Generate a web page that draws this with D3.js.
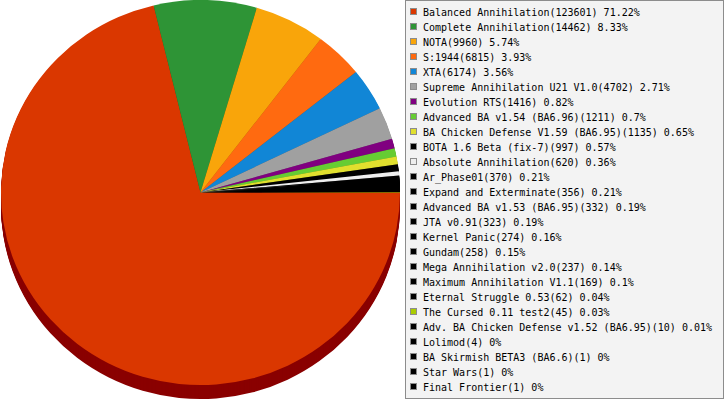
<!DOCTYPE html>
<html>
<head>
<meta charset="utf-8">
<script src="https://cdn.jsdelivr.net/npm/d3@7"></script>
<style>
  body { margin: 0; background: #fff; }
  svg { display: block; }
  .legend text { font-family: "DejaVu Sans Mono", monospace; font-size: 10px; fill: #000; }
</style>
</head>
<body>
<div id="chart"></div>
<script>
// Mod names and game counts, in drawing order
const mods = [
  "Balanced Annihilation", "Complete Annihilation", "NOTA", "S:1944", "XTA",
  "Supreme Annihilation U21 V1.0", "Evolution RTS", "Advanced BA v1.54 (BA6.96)",
  "BA Chicken Defense V1.59 (BA6.95)", "BOTA 1.6 Beta (fix-7)", "Absolute Annihilation",
  "Ar_Phase01", "Expand and Exterminate", "Advanced BA v1.53 (BA6.95)", "JTA v0.91",
  "Kernel Panic", "Gundam", "Mega Annihilation v2.0", "Maximum Annihilation V1.1",
  "Eternal Struggle 0.53", "The Cursed 0.11 test2", "Adv. BA Chicken Defense v1.52 (BA6.95)",
  "Lolimod", "BA Skirmish BETA3 (BA6.6)", "Star Wars", "Final Frontier"
];
const games = [
  123601, 14462, 9960, 6815, 6174, 4702, 1416, 1211, 1135, 997, 620,
  370, 356, 332, 323, 274, 258, 237, 169, 62, 45, 10, 4, 1, 1, 1
];
const colors = [
  "#da3700", "#2e9436", "#f9a50a", "#ff6a10", "#1186d6", "#a0a0a0", "#800080",
  "#66cc33", "#e0df2e", "#000000", "#eeeeee", "#000000", "#000000", "#000000",
  "#000000", "#000000", "#000000", "#000000", "#000000", "#000000", "#aacc00",
  "#000000", "#000000", "#000000", "#000000", "#000000"
];

const W = 725, H = 400;
const cx = 200.5, cy = 192.5, rx = 199.5, ry = 192.5, depth = 14;

const svg = d3.select("#chart").append("svg")
    .attr("width", W)
    .attr("height", H);

const data = mods.map((m, i) => ({ name: m, value: games[i], color: colors[i] }));
const total = d3.sum(games);

// Pie starts at 3 o'clock and runs clockwise
const pie = d3.pie()
    .sort(null)
    .value(d => d.value)
    .startAngle(Math.PI / 2)
    .endAngle(Math.PI / 2 + 2 * Math.PI);

const arc = d3.arc().innerRadius(0).outerRadius(ry);
const arcs = pie(data);

// Side wall: stacked darker copies
const side = svg.append("g");
for (let k = depth; k >= 1; k--) {
  side.append("g")
      .attr("transform", `translate(${cx},${cy + k}) scale(${rx / ry},1)`)
    .selectAll("path")
    .data(arcs)
    .join("path")
      .attr("d", arc)
      .attr("fill", d => d.index === 0 ? "#8a0000" : d3.color(d.data.color).darker(1.2));
}

// Top face
svg.append("g")
    .attr("transform", `translate(${cx},${cy}) scale(${rx / ry},1)`)
  .selectAll("path")
  .data(arcs)
  .join("path")
    .attr("d", arc)
    .attr("fill", d => d.data.color);

// Legend
const legend = svg.append("g").attr("class", "legend");
legend.append("rect")
    .attr("x", 405.5).attr("y", 0.5)
    .attr("width", 318).attr("height", 398)
    .attr("fill", "#f3f3f3")
    .attr("stroke", "#8c8c8c");

const pct = v => Math.round(v / total * 10000) / 100;

const rows = legend.selectAll("g.row")
  .data(data)
  .join("g")
    .attr("class", "row")
    .attr("transform", (d, i) => `translate(0,${i * 15})`);

rows.append("rect")
    .attr("x", 410.5).attr("y", 8.5)
    .attr("width", 6).attr("height", 6)
    .attr("fill", d => d.color)
    .attr("stroke", "#8c8c8c");

rows.append("text")
    .attr("x", 423).attr("y", 16)
    .text(d => `${d.name}(${d.value}) ${pct(d.value)}%`);
</script>
</body>
</html>
